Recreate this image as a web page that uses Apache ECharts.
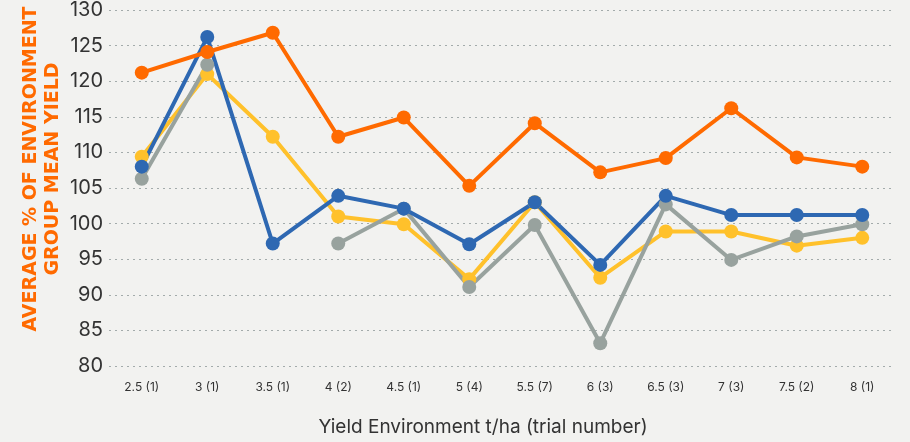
<!DOCTYPE html>
<html>
<head>
<meta charset="utf-8">
<script src="https://cdn.jsdelivr.net/npm/echarts@6/dist/echarts.min.js"></script>
<style>
  html, body { margin: 0; padding: 0; background: #f2f2f0; }
  #chart { width: 910px; height: 442px; }
</style>
</head>
<body>
<div id="chart"></div>
<script>
// Yield environment categories (t/ha, trial number)
const categories = ['2.5 (1)', '3 (1)', '3.5 (1)', '4 (2)', '4.5 (1)', '5 (4)', '5.5 (7)', '6 (3)', '6.5 (3)', '7 (3)', '7.5 (2)', '8 (1)'];

// Average % of environment group mean yield, per series
const yellowValues = [109.4, 121.0, 112.2, 101.0, 99.9, 92.2, 103.0, 92.4, 98.9, 98.9, 96.9, 98.0];
const greyValues   = [106.3, 122.3, null, 97.2, 102.1, 91.1, 99.8, 83.2, 102.7, 94.9, 98.2, 99.9];
const blueValues   = [108.0, 126.2, 97.2, 103.9, 102.1, 97.1, 103.0, 94.2, 103.9, 101.2, 101.2, 101.2];
const orangeValues = [121.2, 124.1, 126.8, 112.2, 114.9, 105.3, 114.1, 107.2, 109.2, 116.2, 109.3, 108.0];

const yAxisTitle = ['AVERAGE % OF ENVIRONMENT', 'GROUP MEAN YIELD'];
const xAxisTitle = 'Yield Environment t/ha (trial number)';

const chart = echarts.init(document.getElementById('chart'));

function lineSeries(name, data, color) {
    return {
        name: name,
        type: 'line',
        data: data,
        connectNulls: false,
        symbol: 'circle',
        symbolSize: 14,
        lineStyle: { width: 4, color: color },
        itemStyle: { color: color },
        emphasis: { disabled: true }
    };
}

chart.setOption({
    backgroundColor: '#f2f2f0',
    animation: false,
    grid: { left: 109, right: 15, top: 6, bottom: 72 },
    xAxis: {
        type: 'category',
        data: categories,
        boundaryGap: true,
        axisLine: { show: false },
        axisTick: { show: false },
        axisLabel: { color: '#333', fontSize: 12, fontFamily: 'Inter', margin: 15 },
        name: xAxisTitle,
        nameLocation: 'middle',
        nameGap: 52,
        nameTextStyle: { color: '#333', fontSize: 19, fontFamily: 'Inter', padding: [0, 38, 0, 0] }
    },
    yAxis: {
        type: 'value',
        min: 80,
        max: 130,
        interval: 5,
        axisLine: { show: false },
        axisTick: { show: false },
        axisLabel: { color: '#333', fontSize: 20, fontFamily: 'Inter', margin: 6, padding: [6, 0, 0, 0] },
        splitLine: { lineStyle: { color: '#a3abab', type: [2, 4], width: 1 } }
    },
    graphic: [{
        type: 'text',
        x: 42,
        y: 169,
        rotation: Math.PI / 2,
        style: {
            text: yAxisTitle.join('\n'),
            fill: '#ff6a00',
            font: 'bold 19px "DejaVu Sans"',
            lineHeight: 22,
            align: 'center',
            verticalAlign: 'middle'
        }
    }],
    series: [
        lineSeries('Yellow', yellowValues, '#ffc12b'),
        lineSeries('Grey', greyValues, '#98a29e'),
        lineSeries('Blue', blueValues, '#2e68b2'),
        lineSeries('Orange', orangeValues, '#ff6a00')
    ]
});
</script>
</body>
</html>
